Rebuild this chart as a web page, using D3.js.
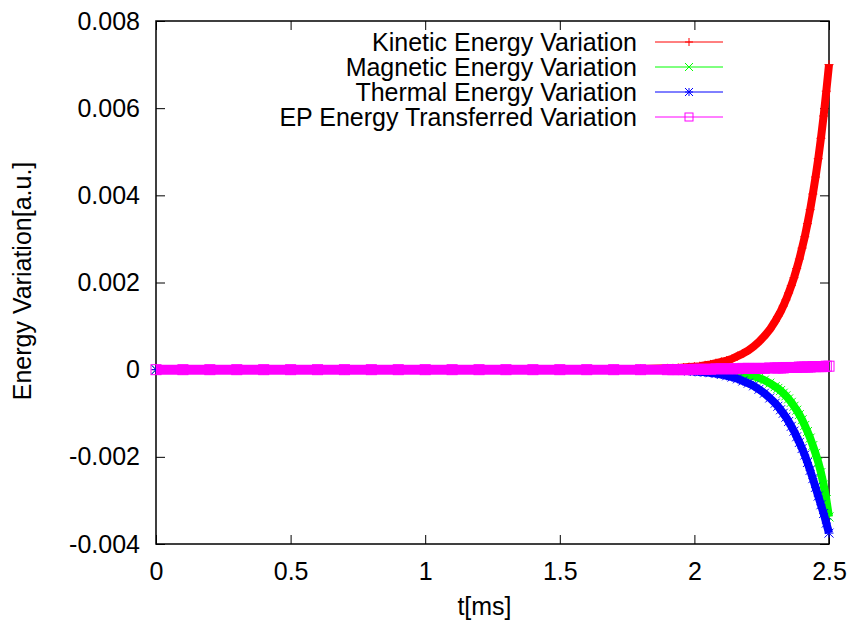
<!DOCTYPE html>
<html>
<head>
<meta charset="utf-8">
<script src="https://cdn.jsdelivr.net/npm/d3@7"></script>
<style>
  body { margin: 0; background: #fff; }
  text { font-family: "Liberation Sans", Arial, sans-serif; }
</style>
</head>
<body>
<div id="chart"></div>
<script>
// time samples [ms]
var times = [0,0.1,0.2,0.3,0.4,0.5,0.6,0.7,0.8,0.9,1.0,1.1,1.2,1.3,1.4,1.5,1.6,1.7,1.8,1.9,
  1.92,1.94,1.96,1.98,2.0,2.02,2.04,2.06,2.08,2.1,2.12,2.14,2.16,2.18,2.2,2.22,2.24,2.26,2.28,2.3,
  2.31,2.32,2.33,2.34,2.35,2.36,2.37,2.38,2.39,2.4,2.41,2.42,2.43,2.44,2.45,2.46,2.47,2.48,2.49,2.5];

var kinetic = [0,0,0,0,0,0,0,0,0,0,0,0,0,0,0,0,0.000003,0.000006,0.000014,0.00003,
  0.00003,0.00004,0.00005,0.00006,0.00007,0.00008,0.0001,0.00012,0.00015,0.00018,0.00021,0.00025,0.00031,0.00037,0.00044,0.00053,0.00064,0.00077,0.00092,0.00111,
  0.00122,0.00133,0.00146,0.0016,0.00176,0.00193,0.00211,0.00232,0.00254,0.00279,0.00305,0.00335,0.00367,0.00403,0.00442,0.00484,0.00531,0.00582,0.00639,0.007];

var magnetic = [0,0,0,0,0,0,0,0,0,0,0,0,0,0,0,0,0,0,0,0,
  0,0,0,-0.000005,-0.00001,-0.00002,-0.00002,-0.00003,-0.00003,-0.00004,-0.00005,-0.00006,-0.00008,-0.0001,-0.00012,-0.00015,-0.00019,-0.00024,-0.00031,-0.00039,
  -0.00043,-0.00048,-0.00054,-0.0006,-0.00067,-0.00075,-0.00084,-0.00093,-0.00103,-0.00115,-0.00128,-0.00142,-0.00157,-0.00174,-0.00192,-0.00212,-0.00236,-0.00264,-0.00298,-0.00338];

var thermal = [0,0,0,0,0,0,0,0,0,0,0,0,0,0,0,0,0,0,-0.000005,-0.00001,
  -0.00001,-0.00002,-0.00002,-0.00003,-0.00004,-0.00005,-0.00006,-0.00007,-0.00009,-0.00011,-0.00014,-0.00017,-0.00021,-0.00026,-0.00031,-0.00037,-0.00045,-0.00054,-0.00065,-0.00077,
  -0.00084,-0.00092,-0.001,-0.00109,-0.00119,-0.0013,-0.00141,-0.00154,-0.00167,-0.00181,-0.00196,-0.00213,-0.00231,-0.0025,-0.0027,-0.0029,-0.0031,-0.0033,-0.00352,-0.00375];

var epTransfer = [0,0,0,0,0,0,0,0,0,0,0,0,0,0,0,0,0,0,0,0,
  0,0,0,0,0.00001,0.00001,0.00001,0.00001,0.00002,0.00002,0.00002,0.00002,0.00002,0.00003,0.00003,0.00003,0.00003,0.00003,0.00004,0.00004,
  0.00004,0.00004,0.00004,0.00005,0.00005,0.00005,0.00005,0.00005,0.00006,0.00006,0.00006,0.00006,0.00006,0.00007,0.00007,0.00007,0.00007,0.00007,0.00008,0.00008];

var seriesNames = ["Kinetic Energy Variation", "Magnetic Energy Variation",
                   "Thermal Energy Variation", "EP Energy Transferred Variation"];
var seriesColors = ["#ff0000", "#00ff00", "#0000ff", "#ff00ff"];
var seriesMarks = ["plus", "cross", "star", "square"];
var seriesValues = [kinetic, magnetic, thermal, epTransfer];

var xTicks = [0, 0.5, 1, 1.5, 2, 2.5];
var yTicks = [-0.004, -0.002, 0, 0.002, 0.004, 0.006, 0.008];

var margin = {top: 21, right: 21, bottom: 80, left: 156};
var width = 850 - margin.left - margin.right,
    height = 624 - margin.top - margin.bottom;

var svg = d3.select("#chart").append("svg")
    .attr("width", 850)
    .attr("height", 624);

var g = svg.append("g")
    .attr("transform", "translate(" + margin.left + "," + margin.top + ")");

var x = d3.scaleLinear().domain([0, 2.5]).range([0, width]);
var y = d3.scaleLinear().domain([-0.004, 0.008]).range([height, 0]);

var fmtY = function(d) { return d === 0 ? "0" : d3.format(".3f")(d).replace("−", "-"); };
var fmtX = function(d) { return String(d); };

// ticks inward on all four sides
g.append("g").attr("class", "axis")
    .attr("transform", "translate(0," + height + ")")
    .call(d3.axisBottom(x).tickValues(xTicks).tickSize(-9).tickPadding(18).tickFormat(fmtX));
g.append("g").attr("class", "axis")
    .call(d3.axisTop(x).tickValues(xTicks).tickSize(-9).tickFormat(""));
g.append("g").attr("class", "axis")
    .call(d3.axisLeft(y).tickValues(yTicks).tickSize(-9).tickPadding(16).tickFormat(fmtY));
g.append("g").attr("class", "axis")
    .attr("transform", "translate(" + width + ",0)")
    .call(d3.axisRight(y).tickValues(yTicks).tickSize(-9).tickFormat(""));

g.selectAll(".axis path").remove();
g.selectAll(".axis line").attr("stroke", "#000").attr("stroke-width", 1);
g.selectAll(".axis text")
    .attr("font-size", "25px")
    .attr("fill", "#000")
    .attr("font-family", "Liberation Sans, Arial, sans-serif");

// frame
g.append("rect")
    .attr("width", width).attr("height", height)
    .attr("fill", "none").attr("stroke", "#000").attr("stroke-width", 1.5);

// axis titles
svg.append("text")
    .attr("x", margin.left + width / 2 - 8)
    .attr("y", 615)
    .attr("text-anchor", "middle")
    .attr("font-size", "25px")
    .text("t[ms]");
svg.append("text")
    .attr("transform", "translate(31," + 281 + ") rotate(-90)")
    .attr("text-anchor", "middle")
    .attr("font-size", "25px")
    .text("Energy Variation[a.u.]");

function drawMark(sel, kind, color, s) {
    if (kind === "plus") {
        sel.append("path").attr("d", "M" + (-s) + ",0H" + s + "M0," + (-s) + "V" + s)
            .attr("stroke", color).attr("fill", "none");
    } else if (kind === "cross") {
        sel.append("path").attr("d", "M" + (-s) + "," + (-s) + "L" + s + "," + s + "M" + (-s) + "," + s + "L" + s + "," + (-s))
            .attr("stroke", color).attr("fill", "none");
    } else if (kind === "star") {
        sel.append("path").attr("d", "M" + (-s) + ",0H" + s + "M0," + (-s) + "V" + s +
            "M" + (-s) + "," + (-s) + "L" + s + "," + s + "M" + (-s) + "," + s + "L" + s + "," + (-s))
            .attr("stroke", color).attr("fill", "none");
    } else {
        sel.append("rect").attr("x", -s).attr("y", -s).attr("width", 2 * s).attr("height", 2 * s)
            .attr("stroke", color).attr("fill", "none");
    }
}

var line = d3.line()
    .x(function(d) { return x(d[0]); })
    .y(function(d) { return y(d[1]); });

var plot = g.append("g");
seriesValues.forEach(function(vals, i) {
    var pts = times.map(function(t, j) { return [t, vals[j]]; });
    var bandW = i === 3 ? 10 : 8;
    plot.append("path")
        .datum(pts)
        .attr("d", line)
        .attr("fill", "none")
        .attr("stroke", seriesColors[i])
        .attr("stroke-width", bandW)
        .attr("stroke-linejoin", "round")
        .attr("stroke-linecap", "butt");
    pts.forEach(function(p) {
        var m = plot.append("g")
            .attr("transform", "translate(" + x(p[0]) + "," + y(p[1]) + ")");
        drawMark(m, seriesMarks[i], seriesColors[i], i === 3 ? 5 : 4.5);
    });
});

// legend
var legend = svg.append("g");
seriesNames.forEach(function(name, i) {
    var ly = 42 + i * 25;
    legend.append("text")
        .attr("x", 637).attr("y", ly)
        .attr("dy", "0.35em")
        .attr("text-anchor", "end")
        .attr("font-size", "25px")
        .text(name);
    legend.append("line")
        .attr("x1", 655).attr("x2", 723)
        .attr("y1", ly).attr("y2", ly)
        .attr("stroke", seriesColors[i]).attr("stroke-width", 1);
    var m = legend.append("g").attr("transform", "translate(689," + ly + ")");
    drawMark(m, seriesMarks[i], seriesColors[i], 4);
});
</script>
</body>
</html>
